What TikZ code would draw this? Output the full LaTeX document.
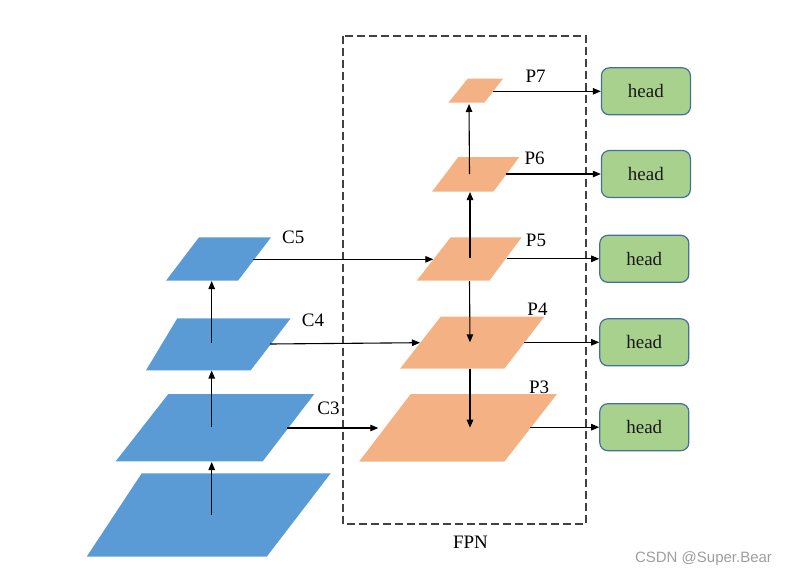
\documentclass[tikz,border=0pt]{standalone}
\usepackage{fontspec}
\setmainfont{Liberation Serif}
\newfontfamily\wmfont{Liberation Sans}
\usetikzlibrary{arrows.meta}
\definecolor{cblue}{HTML}{5B9BD5}
\definecolor{porange}{HTML}{F4B183}
\definecolor{hgreen}{HTML}{A9D18E}
\definecolor{hborder}{HTML}{41719C}
\definecolor{boxgray}{HTML}{404040}
\tikzset{
  cfill/.style={fill=cblue},
  pfill/.style={fill=porange},
  conn/.style={line width=1.1pt, -{Triangle[length=8pt,width=6.5pt]}},
  headbox/.style={draw=hborder, line width=1.2pt, fill=hgreen, rounded corners=8pt,
    minimum width=89pt, minimum height=47pt, inner sep=0pt,
    font=\fontsize{19}{22}\selectfont, text=black!90},
  lbl/.style={font=\fontsize{19}{22}\selectfont, inner sep=0pt},
}
\begin{document}
\begin{tikzpicture}[x=1pt,y=-1pt]
\useasboundingbox (0,0) rectangle (789,576);
% dashed FPN box
\draw[boxgray, line width=1.2pt, dash pattern=on 8pt off 4pt] (343,36) rectangle (586,524);
\node[lbl] (fpn) at (470.5,542.7) {FPN};
% backbone layers
\fill[cfill] (86.7,556.7) -- (266.7,556.7) -- (330.7,473.3) -- (141.7,473.3) -- cycle;
\fill[cfill] (115.7,461.3) -- (262.7,461.3) -- (314.3,394) -- (168.3,394) -- cycle;
\fill[cfill] (146,370.3) -- (250.7,370.3) -- (290.7,318.3) -- (177.3,318.3) -- cycle;
\fill[cfill] (166,280.7) -- (238,280.7) -- (271,237.3) -- (199,237.3) -- cycle;
% FPN layers
\fill[pfill] (359,461.7) -- (504.3,461.7) -- (557,394) -- (410.7,394) -- cycle;
\fill[pfill] (400,368.7) -- (504.3,368.7) -- (544.3,316.7) -- (440.7,316.7) -- cycle;
\fill[pfill] (416.7,280.7) -- (489.3,280.7) -- (521.7,237.3) -- (450.7,237.3) -- cycle;
\fill[pfill] (432,191.7) -- (493.3,191.7) -- (519.3,157) -- (458.3,157) -- cycle;
\fill[pfill] (448.3,102.7) -- (484.3,102.7) -- (503,78.7) -- (467.7,78.7) -- cycle;
% labels
\node[lbl] (lc5) at (293.3,237.3) {C5};
\node[lbl] (lc4) at (313,320) {C4};
\node[lbl] (lc3) at (328.5,408.3) {C3};
\node[lbl] (lp7) at (535.7,76.7) {P7};
\node[lbl] (lp6) at (534.7,158.7) {P6};
\node[lbl] (lp5) at (536,240.3) {P5};
\node[lbl] (lp4) at (537.5,309.7) {P4};
\node[lbl] (lp3) at (539.2,387.7) {P3};
% heads
\node[headbox] (h1) at (645.9,91.3) {head};
\node[headbox] (h2) at (645.9,174) {head};
\node[headbox] (h3) at (644.3,258.8) {head};
\node[headbox] (h4) at (644.3,342.3) {head};
\node[headbox] (h5) at (644.3,427.2) {head};
% connector endpoints
\coordinate (c2in) at (211.7,515);
\coordinate (c3bot) at (211.7,462);
\coordinate (c3in) at (211.7,427);
\coordinate (c4bot) at (211.7,370.5);
\coordinate (c4in) at (211.7,342.7);
\coordinate (c5bot) at (211.7,281);
\coordinate (c5out) at (253,259.3);
\coordinate (p5in) at (433.3,259.3);
\coordinate (c4out) at (270,344);
\coordinate (p4in) at (420,342.7);
\coordinate (c3out) at (286.7,428);
\coordinate (p3in) at (378.3,428);
\coordinate (p5c) at (470,258.3);
\coordinate (p6bot) at (470,192);
\coordinate (p6c) at (469.5,174);
\coordinate (p7bot) at (469,104);
\coordinate (p5bot) at (469.5,281);
\coordinate (p4c) at (470,342.3);
\coordinate (p4bot) at (470,368.7);
\coordinate (p3c) at (470,427.7);
\coordinate (p7out) at (492.7,91.3);
\coordinate (p6out) at (505.7,174);
\coordinate (p5out) at (506.7,258.8);
\coordinate (p4out) at (523.7,342.3);
\coordinate (p3out) at (530,427.2);
% connectors
\draw[conn] (c2in) -- (c3bot);
\draw[conn] (c3in) -- (c4bot);
\draw[conn] (c4in) -- (c5bot);
\draw[conn] (c5out) -- (p5in);
\draw[conn] (c4out) -- (p4in);
\draw[conn] (c3out) -- (p3in);
\draw[conn] (p5c) -- (p6bot);
\draw[conn] (p6c) -- (p7bot);
\draw[conn] (p5bot) -- (p4c);
\draw[conn] (p4bot) -- (p3c);
\draw[conn] (p7out) -- (h1.west);
\draw[conn] (p6out) -- (h2.west);
\draw[conn] (p5out) -- (h3.west);
\draw[conn] (p4out) -- (h4.west);
\draw[conn] (p3out) -- (h5.west);
% watermark
\node[font=\wmfont\fontsize{15}{18}\selectfont, text=black!38, inner sep=0pt] (wm) at (703.5,559) {CSDN @Super.Bear};
\end{tikzpicture}
\end{document}
